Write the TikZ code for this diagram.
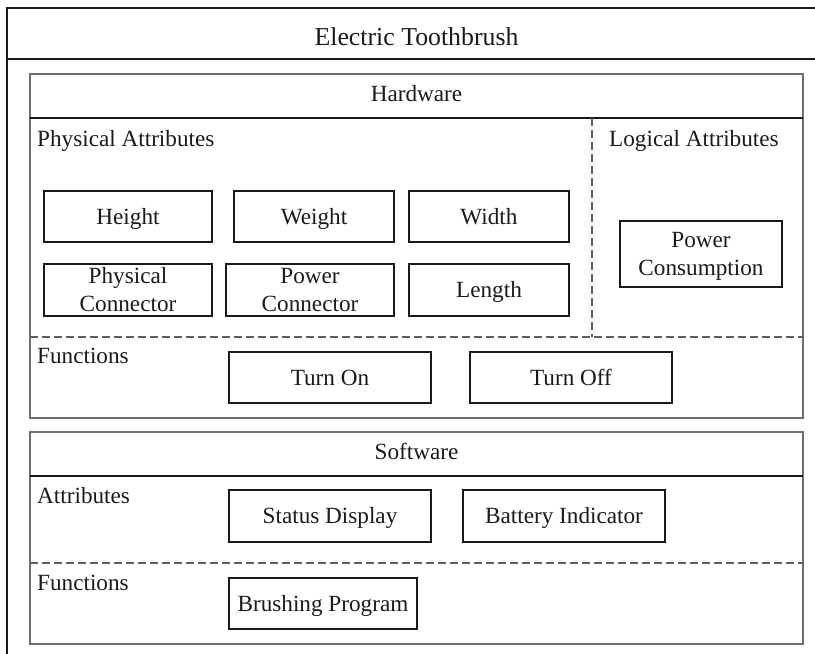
\documentclass[tikz,border=0pt]{standalone}
\usepackage{fontspec}
\setmainfont{Liberation Serif}
\definecolor{ink}{RGB}{26,26,26}
\definecolor{frame}{RGB}{110,110,110}
\definecolor{dash}{RGB}{95,95,95}
\tikzset{
  x=1pt, y=-1pt,
  every node/.style={text=ink, font=\fontsize{23.2}{28}\selectfont},
  item/.style={draw=ink, line width=1.1pt, inner sep=0pt, anchor=center},
  oneline/.style={item, text height=16pt, text depth=1pt},
  twoline/.style={item, align=center},
  caption/.style={anchor=base west, inner sep=0pt},
  heading/.style={anchor=base, inner sep=0pt},
  container/.style={draw=frame, line width=1.4pt},
  rule/.style={draw=ink, line width=1.1pt},
  divider/.style={draw=dash, line width=1.1pt, dash pattern=on 8pt off 4pt},
}
\newcommand{\boxat}[6]{% name, style, x1, y1, x2, y2, text
  \node[#2, minimum width={#5-#3}, minimum height={#6-#4}] (#1) at ({(#3+#5)/2},{(#4+#6)/2})}
\begin{document}
\begin{tikzpicture}
\useasboundingbox (0,0) rectangle (815,654);
\fill[white] (0,0) rectangle (815,654);

% outer frame with title strip
\draw[draw=ink, line width=1.3pt] (7,654) -- (7,8) -- (815,8);
\draw[draw=ink, line width=1.3pt] (7,59) -- (815,59);
\node[heading, font=\fontsize{25.8}{30}\selectfont] (title) at (416.5,45) {Electric Toothbrush};

% hardware block
\draw[container] (30,74) rectangle (803,418);
\draw[rule] (30,118) -- (803,118);
\node[heading] (hw) at (416.5,101) {Hardware};
\draw[divider] (592,118) -- (592,337);
\draw[divider] (30,337) -- (803,337);
\node[caption] (phys) at (37,146) {Physical Attributes};
\node[caption] (logic) at (609,146) {Logical Attributes};
\node[caption] (hwfun) at (37,363) {Functions};

\boxat{height}{oneline}{44}{191}{212}{242} {Height};
\boxat{weight}{oneline}{234}{191}{394}{242} {Weight};
\boxat{width}{oneline}{409}{191}{569}{242} {Width};
\boxat{physcon}{twoline}{44}{264}{212}{316} {Physical\\Connector};
\boxat{powcon}{twoline}{226}{264}{394}{316} {Power\\Connector};
\boxat{length}{oneline}{409}{264}{569}{316} {Length};
\boxat{powuse}{twoline}{620}{221}{782}{287} {};
% base anchor of a two-line node sits on its last line
\node[anchor=base, inner sep=0pt, align=center] (powusetext) at (701,275) {Power\\Consumption};
\boxat{turnon}{oneline}{229}{352}{431}{403} {Turn On};
\boxat{turnoff}{oneline}{470}{352}{672}{403} {Turn Off};

% software block
\draw[container] (30,432) rectangle (803,644);
\draw[rule] (30,476) -- (803,476);
\node[heading] (sw) at (416.5,459) {Software};
\draw[divider] (30,563) -- (803,563);
\node[caption] (swattr) at (37,503) {Attributes};
\node[caption] (swfun) at (37,590) {Functions};

\boxat{status}{oneline}{229}{490}{431}{542} {Status Display};
\boxat{battery}{oneline}{463}{490}{665}{542} {Battery Indicator};
\boxat{brush}{oneline}{229}{578}{417}{629} {Brushing Program};
\end{tikzpicture}
\end{document}
